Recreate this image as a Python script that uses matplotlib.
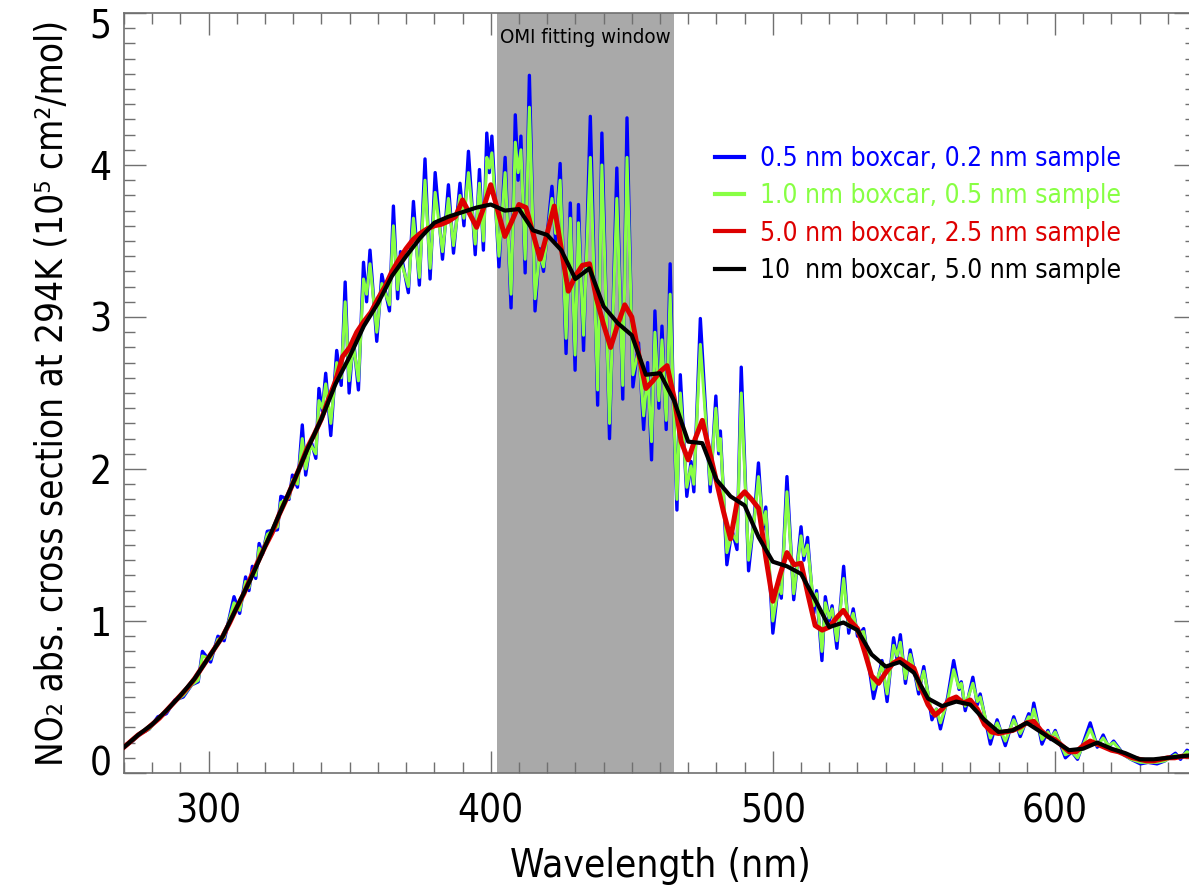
import numpy as np
import matplotlib
matplotlib.use('Agg')
import matplotlib.pyplot as plt
from matplotlib.ticker import MultipleLocator
from matplotlib.transforms import ScaledTranslation

plt.rcParams['font.family'] = ['DejaVu Sans']
plt.rcParams['font.stretch'] = 'condensed'

# high resolution spectra (peaks / troughs)
fine_wl = [
    270.0, 273.0, 276.0, 279.0, 282.0, 285.0, 288.0, 291.0, 294.0, 296.3,
    297.8, 300.7, 303.3, 305.5, 309.0, 311.0, 313.1, 314.3, 315.5, 316.7,
    317.9, 319.1, 320.8, 324.4, 325.6, 328.5, 329.7, 331.5, 333.2, 334.4,
    336.2, 338.0, 339.1, 340.3, 341.5, 343.3, 345.4, 347.0, 348.4, 349.8,
    351.3, 353.1, 354.9, 356.0, 357.2, 359.6, 361.4, 364.1, 365.5, 367.0,
    368.0, 370.8, 372.6, 374.7, 376.7, 378.5, 380.3, 382.9, 385.0, 386.8,
    389.1, 390.5, 392.1, 394.5, 396.0, 397.4, 398.6, 399.5, 400.4, 402.9,
    405.1, 407.2, 408.7, 409.7, 410.7, 412.2, 413.7, 415.7, 417.3, 418.7,
    421.7, 423.0, 424.6, 426.7, 428.2, 429.9, 431.1, 432.9, 435.3, 437.9,
    439.4, 442.1, 444.7, 446.8, 448.3, 450.4, 452.4, 454.2, 455.6, 457.0,
    458.2, 459.6, 460.7, 462.2, 463.6, 464.8, 466.0, 467.2, 469.5, 471.0,
    472.0, 474.3, 477.8, 479.8, 480.8, 481.4, 483.7, 485.5, 487.3, 488.8,
    491.4, 493.5, 494.9, 496.5, 497.5, 500.0, 502.0, 503.0, 505.0, 507.4,
    510.0, 511.0, 512.3, 514.5, 515.5, 517.4, 518.6, 520.0, 521.0, 522.7,
    525.1, 526.9, 528.5, 530.0, 532.2, 535.7, 538.7, 540.5, 542.8, 544.0,
    545.2, 547.0, 548.7, 551.7, 553.5, 556.4, 558.0, 559.4, 562.0, 564.1,
    566.0, 566.8, 568.2, 570.9, 572.5, 573.5, 577.1, 579.5, 582.4, 585.4,
    587.7, 590.7, 591.5, 592.5, 595.4, 597.5, 598.5, 600.1, 603.7, 606.0,
    608.0, 612.5, 615.0, 617.1, 619.0, 620.8, 624.4, 627.0, 630.3, 633.0,
    636.2, 639.0, 642.7, 644.5, 646.8, 650.0]

blue_vals = [
    0.17, 0.21, 0.26, 0.29, 0.37, 0.39, 0.48, 0.50, 0.58, 0.60,
    0.80, 0.73, 0.90, 0.87, 1.16, 1.05, 1.29, 1.20, 1.36, 1.28,
    1.51, 1.44, 1.59, 1.60, 1.82, 1.80, 1.96, 1.88, 2.29, 1.96,
    2.19, 2.07, 2.53, 2.38, 2.63, 2.22, 2.78, 2.55, 3.23, 2.50,
    2.86, 2.52, 3.36, 3.10, 3.44, 2.84, 3.28, 3.04, 3.73, 3.12,
    3.43, 3.16, 3.76, 3.21, 4.04, 3.25, 3.95, 3.38, 3.87, 3.42,
    3.88, 3.60, 4.09, 3.41, 3.97, 3.44, 4.21, 3.95, 4.19, 3.33,
    4.05, 3.06, 4.33, 3.90, 4.19, 3.29, 4.59, 3.04, 3.45, 3.30,
    3.86, 3.50, 4.01, 2.76, 3.75, 2.65, 3.74, 2.78, 4.32, 2.42,
    4.21, 2.20, 3.98, 2.46, 4.31, 2.54, 2.83, 2.26, 2.70, 2.06,
    3.04, 2.40, 2.94, 2.26, 3.35, 2.40, 1.73, 2.62, 1.82, 2.05,
    1.85, 2.99, 1.85, 2.48, 2.10, 2.25, 1.37, 1.60, 1.47, 2.67,
    1.33, 1.70, 2.04, 1.60, 1.75, 0.92, 1.25, 1.15, 1.95, 1.14,
    1.62, 1.40, 1.55, 1.05, 1.20, 0.74, 1.16, 1.00, 1.10, 0.82,
    1.36, 0.92, 1.08, 0.90, 0.95, 0.49, 0.74, 0.47, 0.89, 0.75,
    0.91, 0.59, 0.81, 0.52, 0.70, 0.35, 0.42, 0.29, 0.50, 0.74,
    0.55, 0.60, 0.41, 0.63, 0.45, 0.52, 0.19, 0.35, 0.18, 0.37,
    0.24, 0.39, 0.34, 0.46, 0.19, 0.28, 0.22, 0.28, 0.10, 0.14,
    0.09, 0.33, 0.17, 0.25, 0.17, 0.21, 0.12, 0.09, 0.06, 0.07,
    0.06, 0.08, 0.13, 0.09, 0.15, 0.12]

green_vals = [
    0.17, 0.21, 0.26, 0.29, 0.36, 0.40, 0.47, 0.51, 0.58, 0.61,
    0.77, 0.75, 0.88, 0.89, 1.12, 1.07, 1.26, 1.22, 1.33, 1.30,
    1.48, 1.45, 1.57, 1.62, 1.78, 1.81, 1.93, 1.90, 2.20, 2.00,
    2.16, 2.10, 2.45, 2.40, 2.56, 2.30, 2.70, 2.60, 3.10, 2.58,
    2.82, 2.58, 3.25, 3.15, 3.35, 2.90, 3.22, 3.08, 3.60, 3.18,
    3.38, 3.20, 3.65, 3.26, 3.90, 3.32, 3.82, 3.43, 3.78, 3.47,
    3.80, 3.65, 3.95, 3.48, 3.88, 3.50, 4.05, 3.98, 4.08, 3.40,
    3.95, 3.15, 4.15, 3.95, 4.10, 3.38, 4.38, 3.12, 3.42, 3.33,
    3.78, 3.55, 3.90, 2.86, 3.65, 2.75, 3.62, 2.88, 4.05, 2.52,
    4.00, 2.30, 3.78, 2.55, 4.05, 2.62, 2.78, 2.35, 2.62, 2.18,
    2.90, 2.45, 2.85, 2.32, 3.15, 2.40, 1.80, 2.50, 1.88, 2.02,
    1.90, 2.82, 1.90, 2.40, 2.12, 2.20, 1.45, 1.58, 1.52, 2.50,
    1.40, 1.68, 1.95, 1.63, 1.72, 1.00, 1.23, 1.18, 1.85, 1.18,
    1.56, 1.43, 1.50, 1.10, 1.18, 0.80, 1.12, 1.02, 1.08, 0.87,
    1.28, 0.96, 1.05, 0.92, 0.93, 0.55, 0.71, 0.52, 0.84, 0.77,
    0.86, 0.62, 0.78, 0.55, 0.67, 0.39, 0.42, 0.33, 0.48, 0.68,
    0.56, 0.59, 0.44, 0.59, 0.47, 0.50, 0.23, 0.33, 0.21, 0.35,
    0.26, 0.37, 0.35, 0.42, 0.22, 0.27, 0.23, 0.27, 0.12, 0.14,
    0.10, 0.29, 0.18, 0.23, 0.18, 0.20, 0.12, 0.09, 0.07, 0.07,
    0.07, 0.08, 0.12, 0.10, 0.14, 0.12]

# 5 nm boxcar, 2.5 nm sample
red_wl = np.arange(270, 650.1, 2.5)
red_vals = [
    0.17, 0.21, 0.25, 0.28, 0.32, 0.36, 0.41, 0.46, 0.51, 0.56,
    0.62, 0.69, 0.76, 0.83, 0.90, 0.99, 1.09, 1.18, 1.29, 1.39,
    1.49, 1.58, 1.70, 1.80, 1.91, 2.02, 2.14, 2.23, 2.33, 2.46,
    2.58, 2.74, 2.80, 2.90, 2.97, 3.03, 3.12, 3.20, 3.30, 3.38,
    3.45, 3.51, 3.55, 3.58, 3.60, 3.61, 3.63, 3.66, 3.77, 3.68,
    3.59, 3.72, 3.87, 3.70, 3.53, 3.63, 3.74, 3.72, 3.55, 3.38,
    3.55, 3.73, 3.45, 3.17, 3.27, 3.34, 3.35, 3.12, 2.95, 2.80,
    2.95, 3.08, 3.00, 2.75, 2.53, 2.58, 2.64, 2.68, 2.47, 2.18,
    2.06, 2.20, 2.32, 2.12, 1.92, 1.72, 1.54, 1.80, 1.85, 1.80,
    1.74, 1.42, 1.13, 1.30, 1.45, 1.37, 1.38, 1.17, 0.97, 0.94,
    0.96, 1.02, 1.07, 1.00, 0.95, 0.80, 0.64, 0.59, 0.66, 0.72,
    0.75, 0.72, 0.69, 0.56, 0.45, 0.38, 0.42, 0.48, 0.50, 0.46,
    0.48, 0.42, 0.32, 0.27, 0.26, 0.27, 0.28, 0.30, 0.33, 0.34,
    0.28, 0.24, 0.22, 0.18, 0.14, 0.14, 0.18, 0.21, 0.19, 0.17,
    0.15, 0.14, 0.12, 0.10, 0.09, 0.08, 0.08, 0.09, 0.10, 0.10,
    0.11, 0.11, 0.12]

# 10 nm boxcar, 5 nm sample
black_wl = np.arange(270, 650.1, 5)
black_vals = [
    0.17, 0.25, 0.32, 0.41, 0.51, 0.62, 0.76, 0.90, 1.09, 1.28,
    1.49, 1.70, 1.91, 2.13, 2.33, 2.56, 2.74, 2.94, 3.09, 3.27,
    3.40, 3.52, 3.62, 3.66, 3.69, 3.72, 3.74, 3.70, 3.71, 3.57,
    3.54, 3.44, 3.25, 3.32, 3.07, 2.96, 2.88, 2.62, 2.63, 2.45,
    2.18, 2.17, 1.93, 1.82, 1.76, 1.55, 1.39, 1.36, 1.31, 1.14,
    0.96, 0.99, 0.94, 0.78, 0.70, 0.73, 0.66, 0.49, 0.44, 0.47,
    0.45, 0.35, 0.27, 0.28, 0.33, 0.27, 0.21, 0.15, 0.16, 0.20,
    0.16, 0.13, 0.09, 0.09, 0.10, 0.11, 0.12]

labels = ['0.5 nm boxcar, 0.2 nm sample',
          '1.0 nm boxcar, 0.5 nm sample',
          '5.0 nm boxcar, 2.5 nm sample',
          '10  nm boxcar, 5.0 nm sample']
omi_window = (402.3, 465.0)

fig = plt.figure(figsize=(11.89, 8.90), dpi=100)
ax = fig.add_axes([124 / 1189, 117 / 890, 1072 / 1189, 760 / 890])

ax.axvspan(omi_window[0], omi_window[1], color='#a9a9a9', lw=0, zorder=0)
omi_txt = ax.text(omi_window[0] + 1.0, 4.84, 'OMI fitting window', fontsize=16,
                  va='center', ha='left', color='black')

l1, = ax.plot(fine_wl, blue_vals, color='#0000ff', lw=2.4, zorder=2)
l2, = ax.plot(fine_wl, green_vals, color='#88ff44', lw=2.2, zorder=3)
l3, = ax.plot(red_wl, red_vals, color='#dd0000', lw=3.6, zorder=4)
l4, = ax.plot(black_wl, black_vals, color='black', lw=3.0, zorder=5)

ax.set_xlim(270, 650)
ax.set_ylim(0, 5)
ax.set_xticks([300, 400, 500, 600])
ax.set_yticks([0, 1, 2, 3, 4, 5])
ax.xaxis.set_minor_locator(MultipleLocator(10))
ax.yaxis.set_minor_locator(MultipleLocator(0.1))

ax.tick_params(which='both', direction='in', top=True, right=True,
               color='#707070', width=1.0, labelsize=31)
ax.tick_params(which='major', length=16)
ax.tick_params(which='minor', length=8)
ax.tick_params(axis='x', pad=14)
ax.tick_params(axis='y', pad=9)
for sp in ax.spines.values():
    sp.set_color('#707070')
    sp.set_linewidth(1.2)

xl = ax.set_xlabel('Wavelength (nm)', fontsize=31)
yl = ax.set_ylabel('NO\u2082 abs. cross section at 294K (10\u2075 cm\u00b2/mol)', fontsize=31)
ax.xaxis.set_label_coords(0.5, -0.098)
ax.yaxis.set_label_coords(-0.05, 0.5)

leg = fig.legend([l1, l2, l3, l4], labels, loc='upper left',
                 bbox_to_anchor=(715 / 1189, 1 - 146 / 890),
                 frameon=False, fontsize=19, handlelength=1.1,
                 handletextpad=0.6, labelspacing=0.43, borderpad=0,
                 borderaxespad=0, labelcolor='linecolor')
for h in leg.legend_handles:
    h.set_linewidth(3.0)

# size the condensed texts so that their lengths come near the reference
fig.canvas.draw()
r = fig.canvas.get_renderer()

yl.set_fontsize(31 * 745 / yl.get_window_extent(r).height)
xl.set_fontsize(31 * 300 / xl.get_window_extent(r).width)
omi_txt.set_fontsize(16 * 172 / omi_txt.get_window_extent(r).width)
ax.tick_params(labelsize=31 * 66 / ax.get_xticklabels()[0].get_window_extent(r).width)
leg_size = 19 * 360 / leg.get_texts()[0].get_window_extent(r).width
for t in leg.get_texts():
    t.set_fontsize(leg_size)

yticks = ax.yaxis.get_major_ticks()
yticks[-1].label1.set_transform(yticks[-1].label1.get_transform() +
                                ScaledTranslation(0, -0.10, fig.dpi_scale_trans))
yticks[0].label1.set_transform(yticks[0].label1.get_transform() +
                               ScaledTranslation(0, 0.12, fig.dpi_scale_trans))

fig.savefig('out.png', dpi=100)
